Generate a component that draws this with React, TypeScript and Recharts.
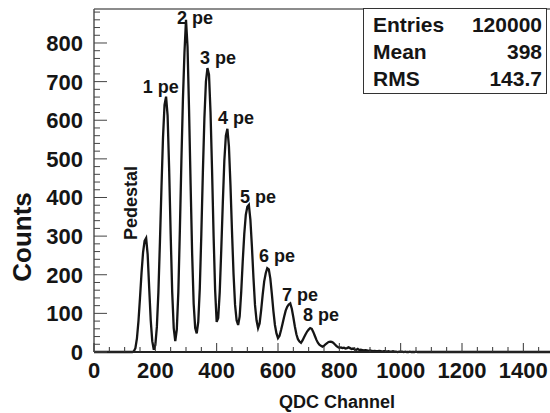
import { LineChart, Line, XAxis, YAxis, ReferenceLine, ReferenceDot } from 'recharts';

/* ── Data ────────────────────────────────────────────────────────────────── */

// QDC spectrum, counts per 5-channel step starting at channel 100
const START = 100;
const STEP = 5;
const COUNTS = [
  0, 0, 0, 0, 0, 0, 2, 10, 35, 80,
  140, 205, 258, 288, 295, 252, 165, 82, 28, 6,
  18, 65, 155, 285, 425, 555, 640, 661, 612, 475,
  305, 155, 62, 28, 58, 155, 315, 495, 655, 775,
  860, 790, 625, 435, 255, 125, 62, 48, 78, 165,
  305, 465, 605, 700, 735, 718, 620, 470, 300, 160,
  78, 88, 155, 265, 385, 495, 560, 578, 532, 432,
  312, 202, 122, 82, 70, 92, 155, 235, 305, 355,
  376, 381, 342, 272, 192, 122, 82, 62, 74, 108,
  148, 183, 204, 217, 214, 190, 150, 106, 70, 48,
  36, 42, 57, 74, 91, 107, 117, 123, 126, 112,
  90, 66, 46, 33, 27, 24, 30, 38, 46, 53,
  58, 62, 60, 52, 42, 32, 24, 19, 16, 14,
  16, 20, 23, 26, 27, 26, 24, 20, 16, 13,
  11, 12, 10, 11, 9, 10, 12, 10, 8, 9,
  7, 6, 8, 5, 6, 5, 4, 5, 4, 3,
  4, 3, 2, 3, 2, 2, 3, 2, 1, 2,
  2, 1, 2, 1, 1, 2, 1, 1, 0, 1,
  1, 1, 0, 1, 0, 0, 1, 0, 0, 0,
  1, 0,
];

const X_MAX = 1500;
const Y_MAX = 888;
const X_MAJOR = [0, 200, 400, 600, 800, 1000, 1200, 1400];
const X_TICKS = Array.from({ length: 31 }, (_, i) => i * 50);
const Y_MAJOR = [0, 100, 200, 300, 400, 500, 600, 700, 800];
const Y_TICKS = Array.from({ length: 45 }, (_, i) => i * 20);

// peak annotations, placed in data coordinates
const LABELS = [
  { text: 'Pedestal', x: 121, y: 386, angle: -90 },
  { text: '1 pe', x: 218, y: 686, angle: 0 },
  { text: '2 pe', x: 329, y: 865, angle: 0 },
  { text: '3 pe', x: 404, y: 761, angle: 0 },
  { text: '4 pe', x: 463, y: 606, angle: 0 },
  { text: '5 pe', x: 535, y: 401, angle: 0 },
  { text: '6 pe', x: 597, y: 249, angle: 0 },
  { text: '7 pe', x: 672, y: 148, angle: 0 },
  { text: '8 pe', x: 740, y: 96, angle: 0 },
];

const STAT_NAMES = ['Entries', 'Mean', 'RMS'];
const STAT_VALUES = ['120000', '398', '143.7'];

const data = [
  { ch: 0, c: 0 },
  ...COUNTS.map((c, i) => ({ ch: START + i * STEP, c })),
  { ch: X_MAX, c: 0 },
];

const INK = '#151515';
const FONT = "'Liberation Sans', Arial, sans-serif";

/* ── Ticks (ROOT style: drawn inside the frame) ─────────────────────────── */

function XTick({ x, y, payload }: any) {
  const major = X_MAJOR.includes(payload.value);
  return (
    <g>
      <line x1={x} y1={y} x2={x} y2={y - (major ? 9 : 5)} stroke="#333" strokeWidth={1} />
      {major && (
        <text x={x} y={y + 26} textAnchor="middle" fontSize={22} fontWeight="bold" fill={INK}>
          {payload.value}
        </text>
      )}
    </g>
  );
}

function YTick({ x, y, payload }: any) {
  const major = Y_MAJOR.includes(payload.value);
  return (
    <g>
      <line x1={x} y1={y} x2={x + (major ? 13 : 6)} y2={y} stroke="#444" strokeWidth={1} />
      {major && (
        <text x={x - 11} y={y + 8} textAnchor="end" fontSize={22} fontWeight="bold" fill={INK}>
          {payload.value}
        </text>
      )}
    </g>
  );
}

/* ── Page ─────────────────────────────────────────────────────────────────── */

export default function App() {
  return (
    <div
      style={{
        position: 'fixed', left: 0, top: 0, width: 550, height: 413,
        overflow: 'hidden', background: '#fff', fontFamily: FONT,
      }}
    >
      <LineChart width={560} height={413} data={data} margin={{ top: 9, right: 6, left: 0, bottom: 0 }}>
        <XAxis
          type="number"
          dataKey="ch"
          domain={[0, X_MAX]}
          ticks={X_TICKS}
          interval={0}
          tick={<XTick />}
          tickSize={0}
          tickMargin={0}
          tickLine={false}
          axisLine={{ stroke: '#222', strokeWidth: 2 }}
          height={61}
        />
        <YAxis
          type="number"
          domain={[0, Y_MAX]}
          ticks={Y_TICKS}
          interval={0}
          tick={<YTick />}
          tickSize={0}
          tickMargin={0}
          tickLine={false}
          axisLine={{ stroke: '#555', strokeWidth: 1.5 }}
          width={94}
        />
        <ReferenceLine y={Y_MAX} stroke="#666" strokeWidth={1.5} />
        <Line
          type="linear"
          dataKey="c"
          stroke={INK}
          strokeWidth={2.3}
          dot={false}
          isAnimationActive={false}
        />
        {LABELS.map(l => (
          <ReferenceDot
            key={l.text}
            x={l.x}
            y={l.y}
            r={0}
            stroke="none"
            fill="none"
            label={{
              value: l.text, position: 'center', fill: INK,
              fontSize: 18, fontWeight: 'bold', angle: l.angle,
            }}
          />
        ))}
      </LineChart>

      {/* Stats box */}
      <div
        style={{
          position: 'absolute', left: 363, top: 8, width: 184, height: 86,
          boxSizing: 'border-box', border: '1.5px solid #333', background: '#fff',
          padding: '2px 4px 0 9px', fontSize: 21, fontWeight: 'bold', color: INK,
        }}
      >
        {STAT_NAMES.map((n, i) => (
          <div key={n} style={{ display: 'flex', justifyContent: 'space-between', height: 27, lineHeight: '27px' }}>
            <span>{n}</span>
            <span>{STAT_VALUES[i]}</span>
          </div>
        ))}
      </div>

      {/* Axis titles */}
      <div
        style={{
          position: 'absolute', left: 22, top: 237, transform: 'translate(-50%, -50%) rotate(-90deg)',
          fontSize: 26, fontWeight: 'bold', color: INK, whiteSpace: 'nowrap',
        }}
      >
        Counts
      </div>
      <div
        style={{
          position: 'absolute', left: 337, top: 402, transform: 'translate(-50%, -50%)',
          fontSize: 18, fontWeight: 'bold', color: INK, whiteSpace: 'nowrap',
        }}
      >
        QDC Channel
      </div>
    </div>
  );
}
